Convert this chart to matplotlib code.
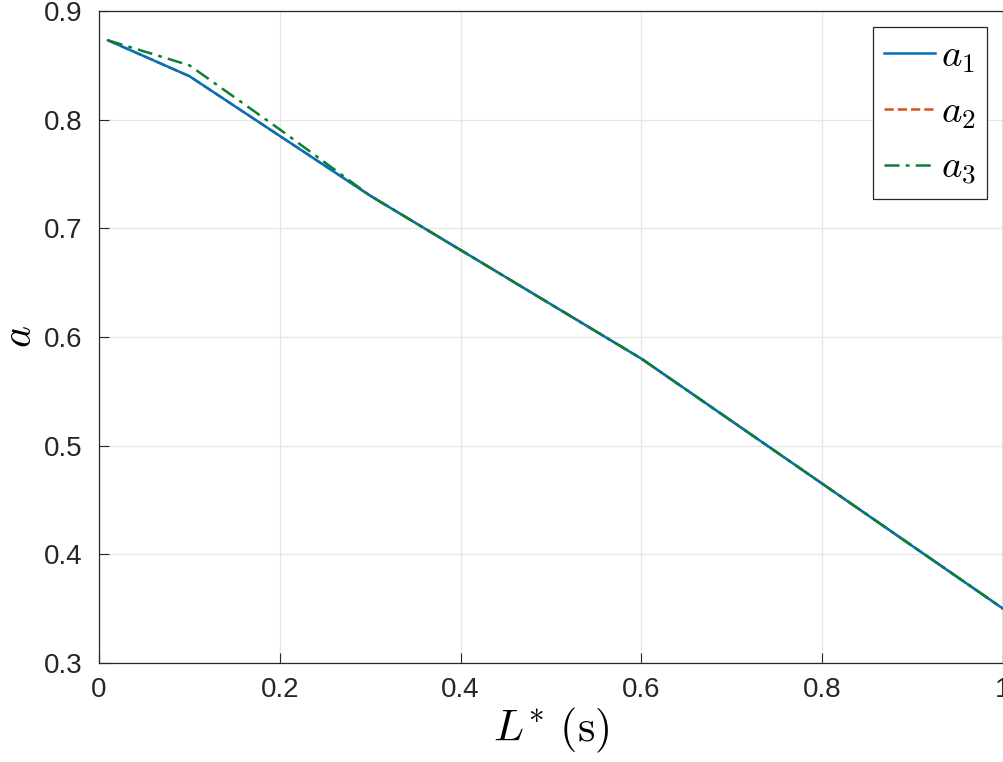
import matplotlib
matplotlib.use("Agg")
import matplotlib.pyplot as plt

plt.rcParams['font.family'] = ['Liberation Sans', 'DejaVu Sans']
plt.rcParams['mathtext.fontset'] = 'cm'

L = [0.01, 0.1, 0.2, 0.3, 0.6, 1.0]
a1 = [0.873, 0.840, 0.785, 0.730, 0.580, 0.350]
a2 = [0.873, 0.840, 0.785, 0.730, 0.580, 0.350]
a3 = [0.873, 0.850, 0.791, 0.730, 0.580, 0.350]

fig = plt.figure(figsize=(10.04, 7.62), dpi=100)
ax = fig.add_axes([0.0986, 0.13, 0.9004, 0.8556])

ax.plot(L, a1, '-', color='#0072BD', lw=1.8, label='$a_1$', zorder=3)
ax.plot(L, a2, '--', color='#D95319', lw=1.8, label='$a_2$', zorder=2)
ax.plot(L, a3, '-.', color='#0B7F35', lw=1.8, label='$a_3$', zorder=4,
        dashes=(6, 2.5, 1.5, 2.5))

ax.set_xlim(0, 1)
ax.set_ylim(0.3, 0.9)
ax.set_xticks([0, 0.2, 0.4, 0.6, 0.8, 1])
ax.set_xticklabels(['0', '0.2', '0.4', '0.6', '0.8', '1'])
ax.set_yticks([0.3, 0.4, 0.5, 0.6, 0.7, 0.8, 0.9])
ax.grid(True, color='#e6e6e6', lw=0.9)
ax.set_axisbelow(True)
ax.tick_params(direction='in', labelsize=20, colors='#262626', length=7)
ax.tick_params(axis='x', pad=10)
ax.tick_params(axis='y', pad=12)
for s in ax.spines.values():
    s.set_color('#262626')
    s.set_linewidth(0.9)

ax.set_xlabel(r'$L^{*}\ \mathrm{(s)}$', fontsize=32, labelpad=2)
ax.set_ylabel('$a$', fontsize=30, labelpad=3)

leg = ax.legend(loc='upper right', fontsize=28, fancybox=False, framealpha=1,
                edgecolor='#262626', handlelength=1.3, handletextpad=0.15,
                borderpad=0.3, labelspacing=0.5, borderaxespad=0.4)
leg.get_frame().set_linewidth(0.9)

plt.savefig('out.png', dpi=100)
plt.close()
